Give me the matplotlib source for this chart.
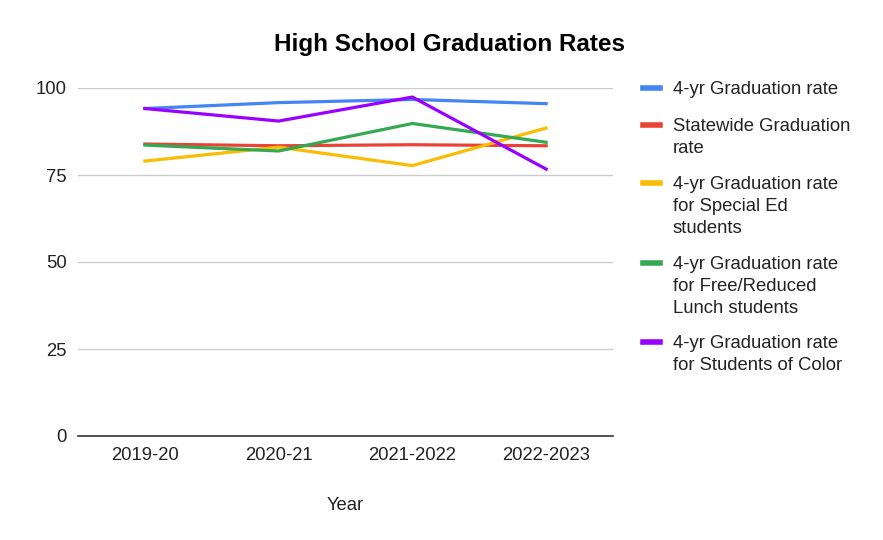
import matplotlib.pyplot as plt
from matplotlib.lines import Line2D

plt.rcParams['font.family'] = ['Liberation Sans', 'DejaVu Sans']

years = ["2019-20", "2020-21", "2021-2022", "2022-2023"]
grad_4yr = [94.1, 95.8, 96.7, 95.5]
statewide = [83.9, 83.4, 83.7, 83.4]
special_ed = [79.0, 83.0, 77.7, 88.5]
free_lunch = [83.6, 81.9, 89.8, 84.4]
students_of_color = [94.1, 90.5, 97.4, 76.7]

series = [
    ("4-yr Graduation rate", grad_4yr, "#4285f4"),
    ("Statewide Graduation\nrate", statewide, "#ea4335"),
    ("4-yr Graduation rate\nfor Special Ed\nstudents", special_ed, "#fbbc04"),
    ("4-yr Graduation rate\nfor Free/Reduced\nLunch students", free_lunch, "#34a853"),
    ("4-yr Graduation rate\nfor Students of Color", students_of_color, "#9900ff"),
]

W, H = 883, 540
fig = plt.figure(figsize=(W / 100, H / 100), dpi=100)
fig.patch.set_facecolor("white")
ax = fig.add_axes([78 / W, 1 - 436 / H, (613 - 78) / W, (436 - 88) / H])

x = list(range(len(years)))
for label, vals, color in series:
    ax.plot(x, vals, color=color, lw=2.3, clip_on=False, zorder=3)

ax.set_xlim(-0.5, len(years) - 0.5)
ax.set_ylim(0, 100)
ax.set_yticks([0, 25, 50, 75, 100])
ax.set_xticks(x)
ax.set_xticklabels(years)
ax.tick_params(axis="both", length=0, labelsize=13.3, colors="#222222")
ax.tick_params(axis="y", pad=8)
ax.tick_params(axis="x", pad=8)
ax.grid(axis="y", color="#cccccc", lw=1)
ax.set_axisbelow(True)
for s in ["top", "right", "left"]:
    ax.spines[s].set_visible(False)
ax.spines["bottom"].set_color("#333333")
ax.spines["bottom"].set_linewidth(1.2)

ax.set_xlabel("Year", fontsize=13.3, color="#222222", labelpad=24)
fig.text(449 / W, 1 - 45 / H, "High School Graduation Rates", ha="center", va="center",
         fontsize=17.5, fontweight="bold", color="#000000")

# legend drawn by hand so the swatch sits on the first line of each label
tops = [88, 125, 183, 263, 342]
for (label, vals, color), ty in zip(series, tops):
    fig.add_artist(Line2D([643 / W, 660 / W], [1 - ty / H, 1 - ty / H],
                          color=color, lw=4, transform=fig.transFigure))
    fig.text(673 / W, 1 - (ty - 7) / H, label, ha="left", va="top",
             fontsize=13.3, color="#222222", linespacing=1.37)

fig.savefig("out.png", dpi=100, facecolor="white")
